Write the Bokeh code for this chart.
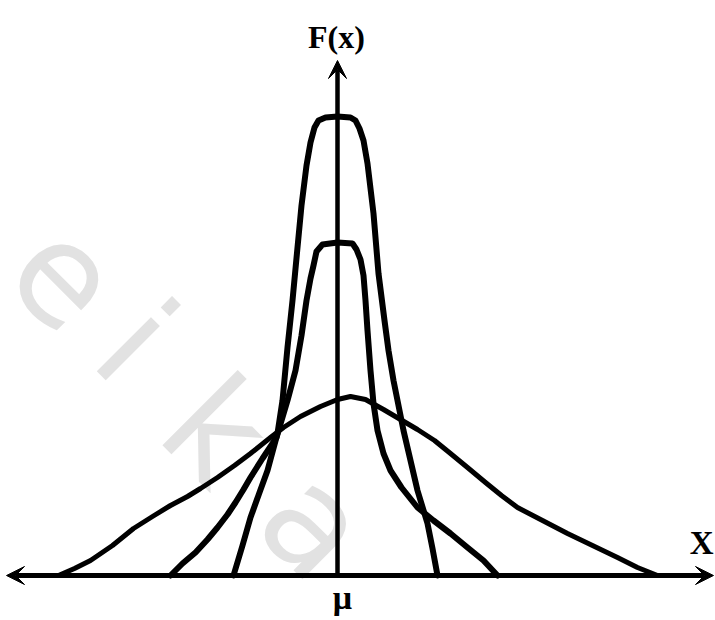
from bokeh.plotting import figure
from bokeh.models import Range1d, Arrow, VeeHead, Label
from bokeh.embed import file_html
from bokeh.resources import INLINE

# ---- data (x measured from the mean mu, y = F(x)) ----
tall_x = [-1.04, -0.95, -0.87, -0.78, -0.70, -0.60, -0.55, -0.50, -0.45, -0.40, -0.36, -0.31, -0.27,
          -0.23, -0.19, -0.12, 0.00, 0.13, 0.18, 0.22, 0.26, 0.30, 0.36, 0.41, 0.47, 0.51, 0.56,
          0.61, 0.66, 0.73, 0.80, 0.90, 0.95, 1.00]
tall_y = [0.00, 0.30, 0.58, 0.83, 1.05, 1.42, 1.75, 2.28, 2.75, 3.28, 3.70, 4.10, 4.33,
          4.48, 4.55, 4.58, 4.59, 4.58, 4.55, 4.47, 4.35, 4.12, 3.62, 3.02, 2.55, 2.25, 1.95,
          1.70, 1.45, 1.15, 0.85, 0.52, 0.27, 0.00]

mid_x = [-1.67, -1.55, -1.42, -1.30, -1.20, -1.10, -1.02, -0.94, -0.87, -0.75, -0.61, -0.50, -0.42,
         -0.36, -0.31, -0.27, -0.24, -0.21, -0.15, 0.00, 0.15, 0.19, 0.23, 0.26, 0.28, 0.30, 0.33,
         0.36, 0.40, 0.46, 0.53, 0.64, 0.80, 0.96, 1.13, 1.30, 1.46, 1.60]
mid_y = [0.00, 0.12, 0.23, 0.36, 0.48, 0.61, 0.73, 0.86, 0.98, 1.17, 1.38, 1.75, 2.05,
         2.40, 2.75, 2.97, 3.10, 3.24, 3.31, 3.33, 3.32, 3.26, 3.16, 3.00, 2.75, 2.45, 2.05,
         1.72, 1.45, 1.22, 1.05, 0.88, 0.68, 0.55, 0.42, 0.28, 0.15, 0.00]

wide_x = [-2.79, -2.63, -2.47, -2.25, -2.04, -1.85, -1.67, -1.50, -1.37, -1.20, -1.03, -0.87, -0.67,
          -0.54, -0.37, -0.17, 0.00, 0.13, 0.28, 0.46, 0.63, 0.80, 0.97, 1.13, 1.30, 1.48, 1.64,
          1.80, 2.05, 2.30, 2.55, 2.80, 3.00, 3.20]
wide_y = [0.00, 0.07, 0.15, 0.30, 0.47, 0.59, 0.70, 0.79, 0.87, 0.98, 1.10, 1.22, 1.38,
          1.48, 1.59, 1.69, 1.76, 1.79, 1.76, 1.66, 1.56, 1.46, 1.35, 1.22, 1.08, 0.93, 0.80,
          0.68, 0.55, 0.42, 0.30, 0.18, 0.08, 0.00]

x_axis_extent = [-3.31, 3.76]
y_axis_top = 5.15

y_label = "F(x)"
x_label = "X"
mean_label = "\u03bc"
watermark_letters = ["e", "i", "k", "a"]
watermark_x = [-2.70, -2.02, -1.21, -0.22]
watermark_y = [3.02, 2.34, 1.45, 0.52]

p = figure(width=715, height=620, output_backend="svg", toolbar_location=None,
           x_range=Range1d(-3.37, 3.78), y_range=Range1d(-0.45, 5.75),
           x_axis_location=None, y_axis_location=None, min_border=0)
p.grid.visible = False
p.outline_line_color = None
p.background_fill_color = "white"
p.border_fill_color = "white"

# faint watermark
for ch, wx, wy in zip(watermark_letters, watermark_x, watermark_y):
    p.add_layout(Label(x=wx, y=wy, text=ch, angle=-0.785398, text_align="center",
                       text_baseline="middle", text_font="DejaVu Sans",
                       text_font_size="140px", text_color="#e2e2e2", level="underlay"))

# curves
p.line(wide_x, wide_y, line_width=5, color="black", line_join="round", line_cap="round")
p.line(mid_x, mid_y, line_width=6, color="black", line_join="round", line_cap="round")
p.line(tall_x, tall_y, line_width=6, color="black", line_join="round", line_cap="round")

# axes drawn as arrows
p.add_layout(Arrow(start=VeeHead(size=18, fill_color="black", line_color="black"),
                   end=VeeHead(size=18, fill_color="black", line_color="black"),
                   x_start=x_axis_extent[0], y_start=0, x_end=x_axis_extent[1], y_end=0,
                   line_width=5, line_color="black"))
p.add_layout(Arrow(end=VeeHead(size=18, fill_color="black", line_color="black"),
                   x_start=0, y_start=0, x_end=0, y_end=y_axis_top,
                   line_width=4.5, line_color="black"))

p.add_layout(Label(x=-0.01, y=5.39, text=y_label, text_align="center", text_baseline="alphabetic",
                   text_font="Liberation Serif", text_font_style="bold",
                   text_font_size="32px", text_color="black"))
p.add_layout(Label(x=3.76, y=0.33, text=x_label, text_align="right", text_baseline="alphabetic",
                   text_font="Liberation Serif", text_font_style="bold",
                   text_font_size="33px", text_color="black"))
p.add_layout(Label(x=0.05, y=-0.22, text=mean_label, text_align="center", text_baseline="alphabetic",
                   text_font="Liberation Serif", text_font_style="bold",
                   text_font_size="34px", text_color="black"))

open("out.html", "w").write(file_html(p, INLINE))
